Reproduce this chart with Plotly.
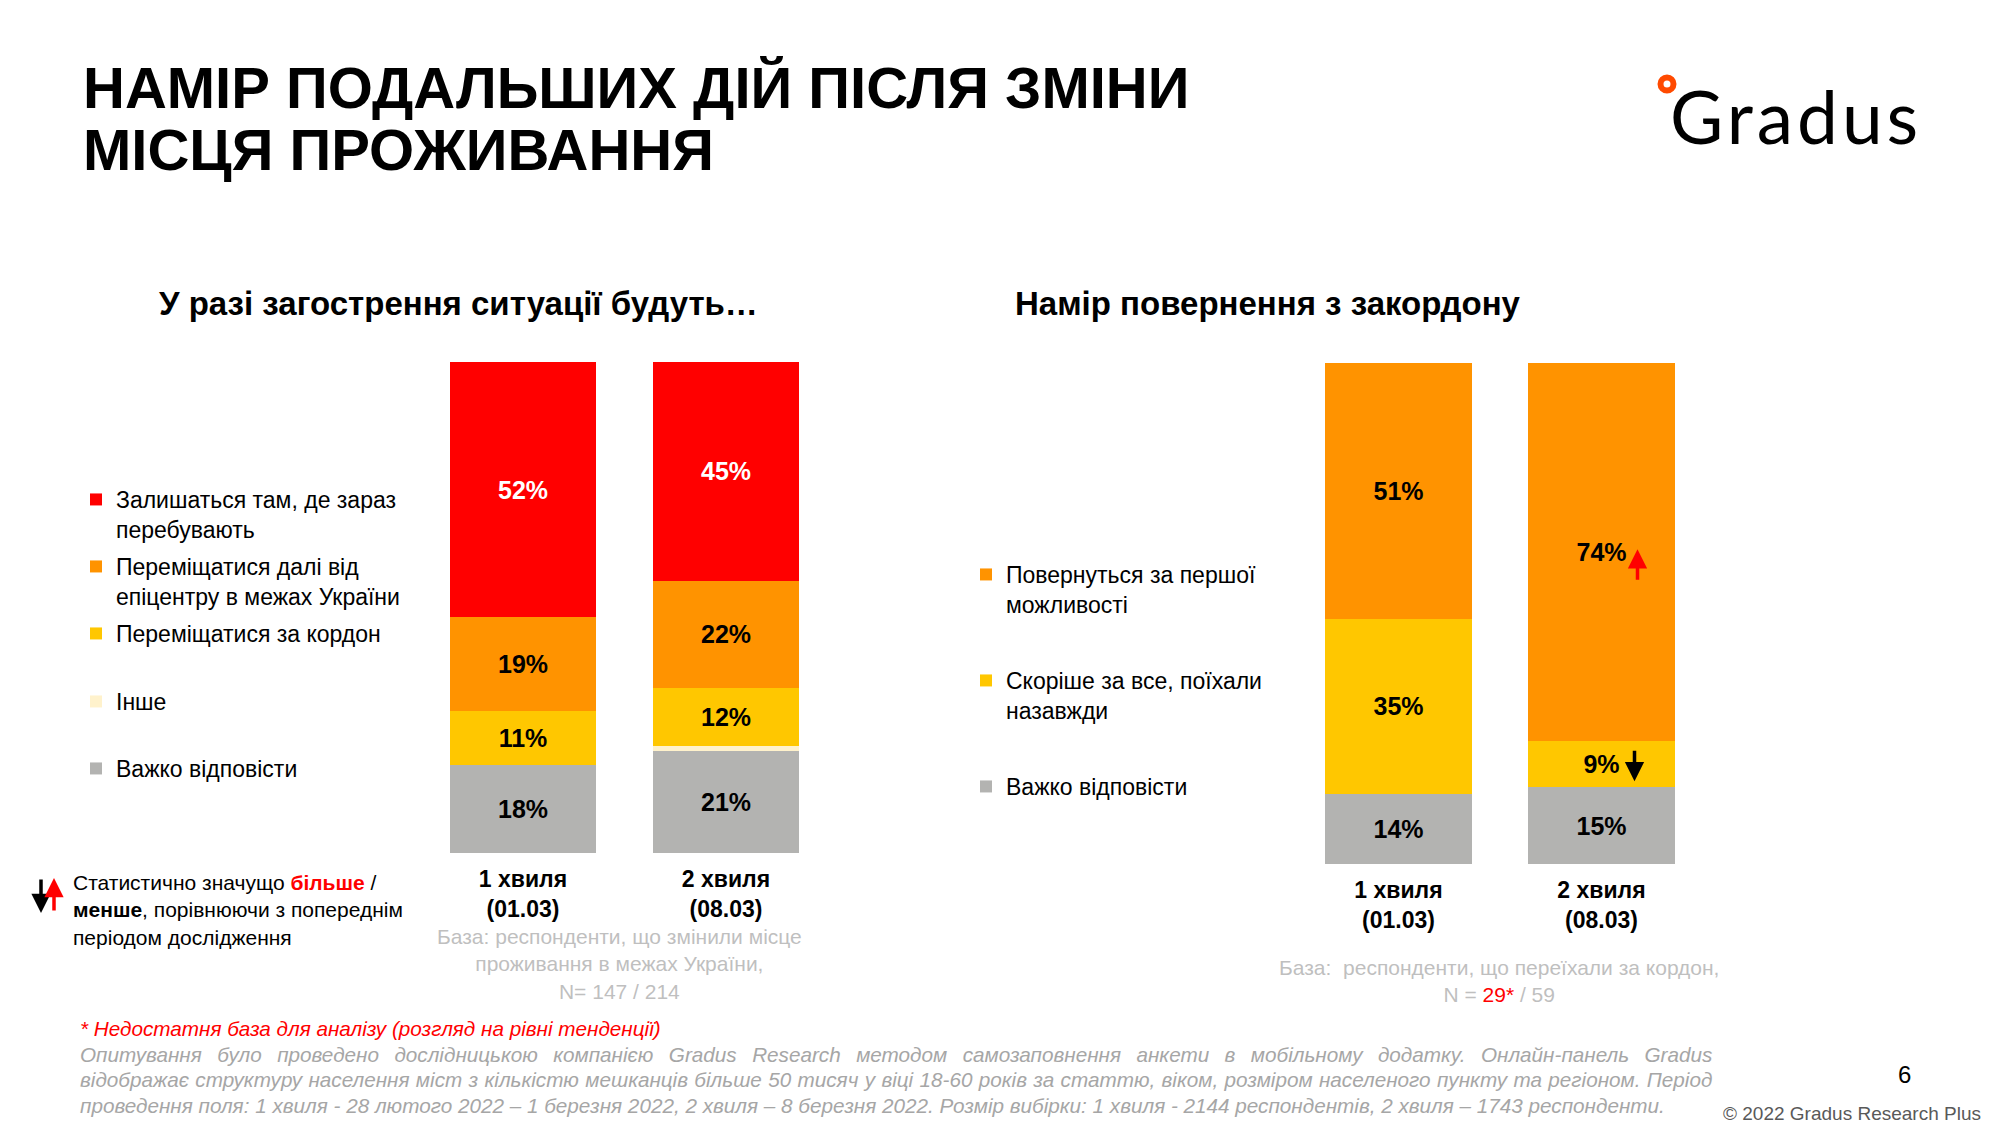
import plotly.graph_objects as go

W, H = 2000, 1125
FONT = "Liberation Sans, Arial, sans-serif"

# ---------------- data ----------------
waves = ["1 хвиля<br>(01.03)", "2 хвиля<br>(08.03)"]

left_labels = {
    "stay": "Залишаться там, де зараз<br>перебувають",
    "inside": "Переміщатися далі від<br>епіцентру в межах України",
    "abroad": "Переміщатися за кордон",
    "other": "Інше",
    "hard": "Важко відповісти",
}
left_stay = [52, 45]
left_inside = [19, 22]
left_abroad = [11, 12]
left_other = [0, 1]
left_hard = [18, 21]

right_labels = {
    "return": "Повернуться за першої<br>можливості",
    "forever": "Скоріше за все, поїхали<br>назавжди",
    "hard": "Важко відповісти",
}
right_return = [51, 74]
right_forever = [35, 9]
right_hard = [14, 15]

# significance markers on the 2nd wave of the right chart
right_sig_up = "return"
right_sig_down = "forever"

# ---------------- styles ----------------
RED = "#FF0000"
ORANGE = "#FF9300"
YELLOW = "#FFC700"
CREAM = "#FFF2CC"
GRAY = "#B3B3B1"


def fx(x):
    return x / W


def fy(y):
    return 1 - y / H


def pct_text(vals):
    return [f"{v}%" if v >= 5 else "" for v in vals]


fig = go.Figure()

# left chart traces, bottom to top of the stack
left_series = [
    ("hard", left_hard, GRAY, "black", "legend5"),
    ("other", left_other, CREAM, "black", "legend4"),
    ("abroad", left_abroad, YELLOW, "black", "legend3"),
    ("inside", left_inside, ORANGE, "black", "legend2"),
    ("stay", left_stay, RED, "white", "legend"),
]
for key, vals, col, tcol, lg in left_series:
    fig.add_trace(go.Bar(
        x=waves, y=vals, name=left_labels[key], showlegend=True,
        marker=dict(color=col, line=dict(width=0)),
        text=pct_text(vals), textposition="inside", insidetextanchor="middle",
        textangle=0, textfont=dict(color=tcol, size=25, family=FONT, weight="bold"),
        legend=lg, xaxis="x", yaxis="y", hoverinfo="name+y",
    ))

right_series = [
    ("hard", right_hard, GRAY, "black", "legend8"),
    ("forever", right_forever, YELLOW, "black", "legend7"),
    ("return", right_return, ORANGE, "black", "legend6"),
]
for key, vals, col, tcol, lg in right_series:
    fig.add_trace(go.Bar(
        x=waves, y=vals, name=right_labels[key], showlegend=True,
        marker=dict(color=col, line=dict(width=0)),
        text=pct_text(vals), textposition="inside", insidetextanchor="middle",
        textangle=0, textfont=dict(color=tcol, size=25, family=FONT, weight="bold"),
        legend=lg, xaxis="x2", yaxis="y2", hoverinfo="name+y",
    ))

# ---------------- legends ----------------
legend_pos = {
    "legend": (76, 478), "legend2": (76, 545), "legend3": (76, 612),
    "legend4": (76, 680), "legend5": (76, 747),
    "legend6": (966, 553), "legend7": (966, 659), "legend8": (966, 765),
}
legends = {}
for k, (lx, ly) in legend_pos.items():
    legends[k] = dict(
        x=fx(lx), y=fy(ly), xanchor="left", yanchor="top",
        bgcolor="rgba(0,0,0,0)", borderwidth=0, valign="top",
        font=dict(size=23, color="#000000", family=FONT), itemwidth=30,
    )

# ---------------- annotations ----------------
ann = []


def text(x, y, s, size, color="#000000", xanchor="left", yanchor="middle",
         align="left", bold=False, family=FONT):
    ann.append(dict(
        x=fx(x), y=fy(y), xref="paper", yref="paper", text=s, showarrow=False,
        xanchor=xanchor, yanchor=yanchor, align=align,
        font=dict(size=size, color=color, family=family,
                  weight="bold" if bold else "normal"),
    ))


text(81, 87, "НАМІР ПОДАЛЬШИХ ДІЙ ПІСЛЯ ЗМІНИ", 58, bold=True)
text(81, 150, "МІСЦЯ ПРОЖИВАННЯ", 58, bold=True)

text(157, 304, "У разі загострення ситуації будуть…", 33, bold=True)
text(1013, 304, "Намір повернення з закордону", 33, bold=True)

# logo
text(1668, 116, "<span style='letter-spacing:4px'>Gradus</span>", 73,
     family="Lato, Inter, sans-serif")

# significance note
text(71, 910,
     "Статистично значущо <b><span style='color:#FF0000'>більше</span></b> /<br>"
     "<b>менше</b>, порівнюючи з попереднім<br>періодом дослідження", 21)

# bases
text(619, 964, "База: респонденти, що змінили місце<br>проживання в межах України,<br>N= 147 / 214",
     21, color="#BFBFBF", xanchor="center", align="center")
text(1499, 981, "База:\u00a0 респонденти, що переїхали за кордон,<br>"
     "N = <span style='color:#FF0000'>29*</span> / 59",
     21, color="#BFBFBF", xanchor="center", align="center")

# footnotes
text(78, 1028, "<i>* Недостатня база для аналізу (розгляд на рівні тенденції)</i>", 20.7, color="#FF0000")
foot_lines = [
    ("Опитування було проведено дослідницькою компанією Gradus Research методом самозаповнення анкети "
     "в мобільному додатку. Онлайн-панель Gradus", 9.7),
    ("відображає структуру населення міст з кількістю мешканців більше 50 тисяч у віці 18-60 років "
     "за статтю, віком, розміром населеного пункту та регіоном. Період", 0.6),
    ("проведення поля: 1 хвиля - 28 лютого 2022 – 1 березня 2022, 2 хвиля – 8 березня 2022. "
     "Розмір вибірки: 1 хвиля - 2144 респондентів, 2 хвиля – 1743 респонденти.", 0),
]
for i, (ln, ws) in enumerate(foot_lines):
    text(78, 1054 + i * 25.5, f"<i><span style='word-spacing:{ws}px'>{ln}</span></i>", 20.7, color="#A6A6A6")

text(1904, 1074, "6", 24, xanchor="center")
text(1983, 1113, "© 2022 Gradus Research Plus", 19, color="#595959", xanchor="right")


# arrows
def arrow(x, y, ax, ay, color, xref="paper", yref="paper", xshift=0, yshift=0):
    ann.append(dict(
        x=x, y=y, xref=xref, yref=yref, ax=ax, ay=ay, axref="pixel", ayref="pixel",
        text="", showarrow=True, arrowhead=2, arrowsize=1.1, arrowwidth=3.5,
        arrowcolor=color, xshift=xshift, yshift=yshift,
    ))


arrow(fx(41), fy(913), 0, -35, "#000000")
arrow(fx(54), fy(878), 0, 34, RED)

# in-bar significance arrows, placed relative to the centre of the relevant segment
stack_order = ["hard", "forever", "return"]
right_vals = {"hard": right_hard, "forever": right_forever, "return": right_return}
tot = sum(right_vals[k][1] for k in stack_order)


def seg_center(key):
    below = 0
    for k in stack_order:
        if k == key:
            return (below + right_vals[k][1] / 2) / tot * 100
        below += right_vals[k][1]


arrow(waves[1], seg_center(right_sig_up), 0, 32, RED, xref="x2", yref="y2", xshift=36, yshift=3)
arrow(waves[1], seg_center(right_sig_down), 0, -32, "#000000", xref="x2", yref="y2", xshift=33, yshift=-17)

fig.update_layout(
    width=W, height=H, margin=dict(l=0, r=0, t=0, b=0),
    paper_bgcolor="white", plot_bgcolor="white", showlegend=True,
    barmode="stack", barnorm="percent", bargap=0.28,
    font=dict(family=FONT, color="#000000"),
    xaxis=dict(domain=[fx(421.5), fx(827.5)], anchor="y", showgrid=False, showline=False,
               zeroline=False, ticks="", ticklabelstandoff=10,
               tickfont=dict(size=23, color="#000000", family=FONT, weight="bold")),
    yaxis=dict(domain=[fy(853), fy(362)], range=[0, 100], visible=False),
    xaxis2=dict(domain=[fx(1297), fx(1703)], anchor="y2", showgrid=False, showline=False,
                zeroline=False, ticks="", ticklabelstandoff=10,
                tickfont=dict(size=23, color="#000000", family=FONT, weight="bold")),
    yaxis2=dict(domain=[fy(864), fy(363)], range=[0, 100], visible=False),
    annotations=ann,
    shapes=[dict(type="circle", xref="paper", yref="paper",
                 x0=fx(1667 - 6.5), x1=fx(1667 + 6.5), y0=fy(84 + 6.5), y1=fy(84 - 6.5),
                 line=dict(color="#FF4A00", width=6))],
    **legends,
)

fig.write_html("out.html", config={"displayModeBar": False},
               post_script="document.body.style.margin='0';document.body.style.padding='0';")
